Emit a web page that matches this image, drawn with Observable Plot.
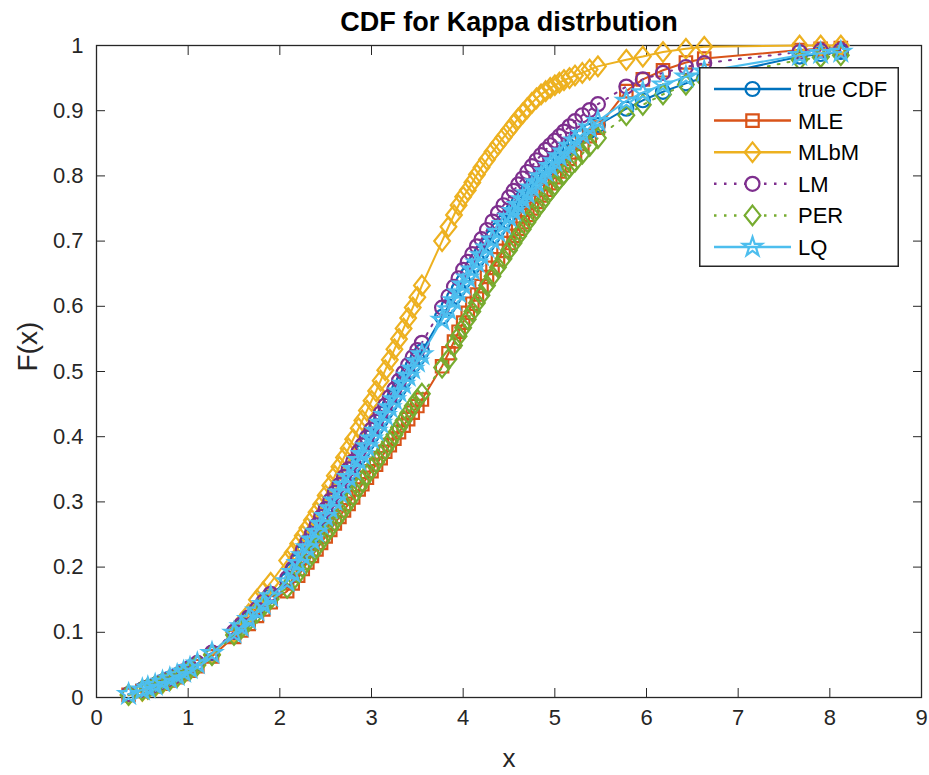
<!DOCTYPE html>
<html><head><meta charset="utf-8">
<script src="https://cdn.jsdelivr.net/npm/d3@7"></script>
<script src="https://cdn.jsdelivr.net/npm/@observablehq/plot@0.6"></script>
<style>
body{margin:0;background:#fff;font-family:"Liberation Sans",Arial,sans-serif}
#wrap{position:relative;width:929px;height:775px}
#legend{position:absolute;left:699px;top:67px}
</style></head>
<body><div id="wrap"></div>
<script>
// sample points (sorted x)
const xs = [0.35,0.50,0.56,0.64,0.72,0.80,0.88,0.95,1.02,1.10,1.26,1.50,1.58,1.66,1.75,1.82,1.90,
 2.08,2.14,2.20,2.25,2.30,2.35,2.40,2.45,2.50,2.55,2.60,2.65,2.70,2.75,2.80,2.86,2.90,2.95,3.00,3.05,3.10,3.15,3.20,3.25,3.30,3.35,3.40,3.45,3.50,3.55,
 3.77,3.84,3.90,3.95,4.00,4.05,4.10,4.15,4.20,4.26,4.32,4.38,4.44,4.50,4.55,4.60,4.65,4.70,4.75,4.80,4.85,4.90,4.95,5.00,5.05,5.10,5.16,5.22,5.30,5.38,5.47,
 5.78,5.96,6.18,6.43,6.63,7.67,7.90,8.12];

const trueCDF = [.005,.012,.015,.019,.024,.029,.034,.039,.045,.052,.068,.100,.110,.121,.134,.144,.156,
 .180,.195,.209,.222,.234,.246,.258,.271,.283,.295,.307,.319,.330,.342,.354,.368,.377,.389,.401,.413,.425,.437,.449,.461,.473,.485,.497,.509,.520,.531,
 .584,.600,.614,.626,.638,.649,.660,.671,.682,.694,.706,.718,.729,.740,.749,.758,.767,.776,.785,.793,.801,.809,.816,.823,.830,.837,.845,.852,.861,.869,.878,
 .903,.916,.929,.942,.951,.983,.987,.990];

const mle = [.004,.010,.013,.017,.021,.026,.031,.036,.041,.048,.063,.093,.103,.113,.125,.135,.146,
 .163,.175,.187,.197,.207,.217,.227,.237,.247,.257,.267,.277,.287,.297,.307,.319,.327,.337,.347,.357,.367,.377,.387,.397,.407,.417,.427,.437,.447,.457,
 .508,.528,.546,.561,.575,.590,.604,.618,.631,.645,.659,.672,.685,.697,.708,.719,.729,.740,.750,.760,.770,.779,.789,.798,.807,.816,.826,.836,.849,.861,.874,
 .930,.948,.962,.974,.980,.993,.995,.996];

const mlbm = [.004,.010,.013,.017,.022,.027,.032,.037,.043,.050,.066,.100,.114,.128,.150,.162,.176,
 .210,.222,.236,.248,.260,.272,.284,.296,.310,.325,.340,.354,.368,.382,.396,.413,.425,.440,.455,.470,.486,.502,.518,.534,.550,.566,.582,.598,.614,.632,
 .700,.722,.740,.755,.768,.778,.790,.802,.813,.825,.837,.848,.859,.870,.879,.888,.896,.904,.912,.919,.925,.930,.935,.939,.943,.947,.950,.954,.958,.963,.968,
 .978,.983,.990,.995,.998,1.0,1.0,1.0];

const lm = [.005,.012,.015,.019,.024,.029,.034,.040,.046,.053,.069,.101,.112,.123,.136,.147,.159,
 .183,.198,.213,.226,.239,.251,.264,.277,.289,.302,.314,.326,.338,.350,.362,.377,.387,.399,.411,.423,.436,.448,.461,.473,.486,.498,.510,.522,.533,.544,
 .598,.615,.630,.643,.656,.668,.680,.692,.703,.717,.730,.743,.755,.767,.777,.787,.796,.806,.815,.824,.832,.840,.847,.854,.861,.868,.876,.884,.893,.901,.910,
 .937,.948,.958,.967,.973,.990,.992,.993];

const per = [.004,.011,.014,.018,.023,.027,.032,.037,.043,.050,.065,.096,.106,.117,.130,.140,.151,
 .168,.179,.190,.200,.210,.220,.230,.240,.250,.260,.270,.280,.290,.300,.310,.322,.331,.341,.351,.361,.371,.381,.392,.403,.414,.425,.436,.447,.457,.466,
 .506,.519,.540,.554,.567,.580,.592,.605,.617,.632,.646,.660,.673,.686,.697,.708,.718,.729,.739,.749,.758,.768,.777,.786,.795,.803,.813,.822,.834,.846,.858,
 .893,.909,.925,.940,.948,.978,.982,.985];

const lq = [.005,.012,.015,.019,.024,.029,.034,.039,.045,.052,.068,.099,.109,.120,.133,.143,.155,
 .178,.192,.206,.218,.230,.242,.254,.266,.278,.290,.302,.314,.326,.338,.350,.364,.373,.385,.397,.409,.421,.433,.445,.457,.469,.481,.493,.504,.515,.526,
 .579,.595,.609,.621,.633,.644,.656,.667,.678,.690,.702,.714,.726,.737,.746,.755,.764,.773,.782,.790,.799,.807,.815,.822,.830,.837,.846,.854,.864,.874,.884,
 .915,.928,.940,.952,.960,.985,.988,.990];

const seriesNames = ["true CDF","MLE","MLbM","LM","PER","LQ"];
const seriesValues = [trueCDF, mle, mlbm, lm, per, lq];
const seriesColors = ["#0072BD","#D95319","#EDB120","#7E2F8E","#77AC30","#4DBEEE"];
const seriesMarkers = ["circle","square","diamond","circle","diamond","star"];
const seriesDotted = [false,false,false,true,true,false];

const xTicks = [0,1,2,3,4,5,6,7,8,9];
const yTicks = [0,0.1,0.2,0.3,0.4,0.5,0.6,0.7,0.8,0.9,1];
const yTickLabels = ["0","0.1","0.2","0.3","0.4","0.5","0.6","0.7","0.8","0.9","1"];

const titleText = "CDF for Kappa distrbution";
const xLabel = "x";
const yLabel = "F(x)";

// MATLAB-like diamond (slightly taller than wide)
const matDiamond = {draw(ctx, size){ const w = Math.sqrt(size/2.5), h = 1.25*w;
  ctx.moveTo(0,-h); ctx.lineTo(w,0); ctx.lineTo(0,h); ctx.lineTo(-w,0); ctx.closePath(); }};
function symbolOf(m){ return m==="circle"?d3.symbolCircle: m==="square"?d3.symbolSquare: m==="diamond"?matDiamond: d3.symbolStar; }
function rOf(m){ return m==="star"?6:7; }

const axisColor = "#262626";
const marks = [Plot.frame({stroke: axisColor, strokeWidth: 1.3})];

// inward ticks on all four sides
marks.push(Plot.axisX(xTicks, {anchor:"bottom", tickSize:9, dy:-9, text:null, label:null, stroke:axisColor}));
marks.push(Plot.axisX(xTicks, {anchor:"top", tickSize:9, dy:9, text:null, label:null, stroke:axisColor}));
marks.push(Plot.axisY(yTicks, {anchor:"left", tickSize:9, dx:9, text:null, label:null, stroke:axisColor}));
marks.push(Plot.axisY(yTicks, {anchor:"right", tickSize:9, dx:-9, text:null, label:null, stroke:axisColor}));
// tick labels
marks.push(Plot.axisX(xTicks, {anchor:"bottom", tickSize:0, tickPadding:12, fontSize:22, fill:axisColor, label:null}));
marks.push(Plot.axisY(yTicks, {anchor:"left", tickSize:0, tickPadding:13, fontSize:22, fill:axisColor, label:null,
  tickFormat:(d)=>yTickLabels[yTicks.indexOf(d)]}));

seriesNames.forEach((name, k) => {
  const rows = xs.map((x, i) => ({x, y: seriesValues[k][i], series: name}));
  marks.push(Plot.line(rows, {x:"x", y:"y", stroke: seriesColors[k], strokeWidth: 2,
    strokeDasharray: seriesDotted[k] ? "2,8" : null}));
  marks.push(Plot.dot(rows, {x:"x", y:"y", stroke: seriesColors[k], strokeWidth: 2.2, fill:"none",
    symbol: symbolOf(seriesMarkers[k]), r: rOf(seriesMarkers[k])}));
});

marks.push(Plot.text([titleText], {text: d=>d, frameAnchor:"top", dy:-23, lineAnchor:"middle",
  fontSize:27, fontWeight:"bold", fill:"#000"}));
marks.push(Plot.text([xLabel], {text: d=>d, frameAnchor:"bottom", dy:61, lineAnchor:"middle", fontSize:26, fill:axisColor}));
marks.push(Plot.text([yLabel], {text: d=>d, frameAnchor:"left", dx:-68, rotate:-90, lineAnchor:"middle", fontSize:28, fill:axisColor}));

const chart = Plot.plot({
  width: 929, height: 775,
  marginLeft: 96, marginRight: 8, marginTop: 45, marginBottom: 78,
  x: {domain:[0,9], axis:null},
  y: {domain:[0,1], axis:null},
  style: {fontFamily:"'Liberation Sans', Arial, sans-serif", background:"#fff", overflow:"visible"},
  marks
});
const wrap = document.getElementById("wrap");
wrap.appendChild(chart);

// legend (overlay box)
const lw = 200, lh = 200;
const leg = d3.select(wrap).append("svg").attr("id","legend").attr("width", lw).attr("height", lh);
leg.append("rect").attr("x",0.75).attr("y",0.75).attr("width",lw-1.5).attr("height",lh-1.5)
  .attr("fill","#fff").attr("stroke",axisColor).attr("stroke-width",1.5);
seriesNames.forEach((name, k) => {
  const y = 22 + k*31.6;
  leg.append("line").attr("x1",15).attr("x2",92).attr("y1",y).attr("y2",y)
    .attr("stroke",seriesColors[k]).attr("stroke-width",2.5)
    .attr("stroke-dasharray", seriesDotted[k] ? "2.5,7.5" : null);
  const m = seriesMarkers[k], r = rOf(m);
  leg.append("path").attr("d", d3.symbol(symbolOf(m), Math.PI*r*r)())
    .attr("transform",`translate(53.5,${y})`).attr("fill", seriesDotted[k] ? "#fff" : "none")
    .attr("stroke",seriesColors[k]).attr("stroke-width",2.2);
  leg.append("text").attr("x",99).attr("y",y).attr("dy","0.36em").attr("font-size",22)
    .attr("fill","#000").text(name);
});
</script></body></html>
